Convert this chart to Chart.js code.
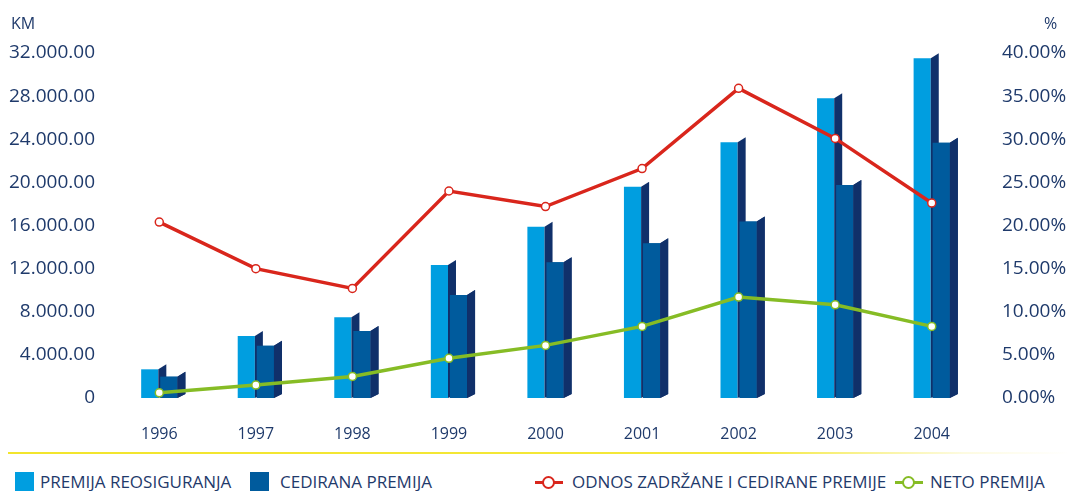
<!DOCTYPE html>
<html>
<head>
    <meta charset="utf-8">
    <title>Premija reosiguranja 1996 - 2004</title>
    <script src="https://cdn.jsdelivr.net/npm/chart.js"></script>
    <style>
        body { margin: 0; background: #fff; font-family: 'Open Sans', sans-serif; color: #1f3a6b; }
        #wrap { position: relative; width: 1070px; height: 491px; overflow: hidden; }
        #chart { position: absolute; left: 0; top: 0; }
        .unit { position: absolute; top: 12px; font-size: 16px; }
        .sep { position: absolute; left: 8px; top: 452px; width: 1062px; height: 2px;
               background: linear-gradient(to right, #f2e52c 0%, #f4e83a 70%, rgba(250,245,180,0.4) 90%, rgba(255,255,255,0) 100%); }
        .leg { position: absolute; top: 470px; font-size: 17px; line-height: 24px; white-space: nowrap; }
        .sq { position: absolute; top: 2px; width: 19px; height: 19px; }
        .mk { position: absolute; top: 11px; width: 28px; height: 3px; }
        .mk i { position: absolute; left: 7px; top: -5px; width: 13px; height: 13px; border-radius: 50%;
                background: #fff; border: 2px solid; box-sizing: border-box; }
    </style>
</head>
<body>
<div id="wrap">
    <canvas id="chart" width="1070" height="450"></canvas>
    <div class="unit" style="left:11px;">KM</div>
    <div class="unit" style="left:1044px;">%</div>
    <div class="sep"></div>
    <div class="leg" style="left:15px;"><span class="sq" style="left:0;background:#009ee0;"></span><span style="margin-left:25px;">PREMIJA REOSIGURANJA</span></div>
    <div class="leg" style="left:250px;"><span class="sq" style="left:0;background:#005b9d;"></span><span style="margin-left:30px;">CEDIRANA PREMIJA</span></div>
    <div class="leg" style="left:535px;"><span class="mk" style="left:0;background:#d9261c;"><i style="border-color:#d9261c;"></i></span><span style="margin-left:37px;">ODNOS ZADRŽANE I CEDIRANE PREMIJE</span></div>
    <div class="leg" style="left:895px;"><span class="mk" style="left:0;background:#86bc25;"><i style="border-color:#86bc25;"></i></span><span style="margin-left:35px;">NETO PREMIJA</span></div>
</div>
<script>
    // podaci
    var years = ['1996', '1997', '1998', '1999', '2000', '2001', '2002', '2003', '2004'];
    var premijaReosiguranja = [2660, 5750, 7490, 12340, 15890, 19600, 23720, 27800, 31510];
    var cediranaPremija = [1980, 4850, 6210, 9550, 12590, 14350, 16360, 19760, 23680];
    var odnosPremije = [20.4, 15.0, 12.7, 24.0, 22.2, 26.6, 35.9, 30.1, 22.6];
    var netoPremija = [0.6, 1.5, 2.5, 4.6, 6.1, 8.3, 11.7, 10.8, 8.3];
    var kmTicks = ['0', '4.000.00', '8.000.00', '12.000.00', '16.000.00', '20.000.00', '24.000.00', '28.000.00', '32.000.00'];
    var pctTicks = ['0.00%', '5.00%', '10.00%', '15.00%', '20.00%', '25.00%', '30.00%', '35.00%', '40.00%'];

    var navy = '#1f3a6b';
    var LIGHT = 2, DARK = 3; // indeksi stupaca

    function drawSides(ctx, meta) {
        ctx.save();
        ctx.fillStyle = '#10306a';
        meta.data.forEach(function(bar) {
            var r = bar.x + bar.width / 2;
            ctx.beginPath();
            ctx.moveTo(r, bar.base);
            ctx.lineTo(r, bar.y);
            ctx.lineTo(r + 8, bar.y - 5);
            ctx.lineTo(r + 8, bar.base - 4);
            ctx.closePath();
            ctx.fill();
        });
        ctx.restore();
    }

    // bocna strana stupca (3D efekt); tamni stupac mora biti ispred svijetlog
    var sideFaces = {
        id: 'sideFaces',
        afterDatasetDraw: function(chart, args) {
            if (args.index === DARK) {
                drawSides(chart.ctx, args.meta);
            }
            if (args.index === LIGHT) {
                drawSides(chart.ctx, args.meta);
                var dark = chart.getDatasetMeta(DARK);
                dark.data.forEach(function(bar) { bar.draw(chart.ctx, chart.chartArea); });
                drawSides(chart.ctx, dark);
            }
        }
    };

    var ctx = document.getElementById('chart').getContext('2d');
    var chart = new Chart(ctx, {
        type: 'bar',
        data: {
            labels: years,
            datasets: [
                {
                    type: 'line',
                    label: 'ODNOS ZADRŽANE I CEDIRANE PREMIJE',
                    data: odnosPremije,
                    yAxisID: 'y1',
                    borderColor: '#d9261c',
                    borderWidth: 3.5,
                    pointRadius: 4,
                    pointBorderWidth: 1.5,
                    pointBackgroundColor: '#fff',
                    pointBorderColor: '#d9261c',
                    tension: 0,
                    order: 0
                },
                {
                    type: 'line',
                    label: 'NETO PREMIJA',
                    data: netoPremija,
                    yAxisID: 'y1',
                    borderColor: '#86bc25',
                    borderWidth: 3.5,
                    pointRadius: 4,
                    pointBorderWidth: 1.5,
                    pointBackgroundColor: '#fff',
                    pointBorderColor: '#86bc25',
                    tension: 0,
                    order: 0
                },
                {
                    label: 'PREMIJA REOSIGURANJA',
                    data: premijaReosiguranja,
                    yAxisID: 'y',
                    backgroundColor: '#009ee0',
                    order: 1
                },
                {
                    label: 'CEDIRANA PREMIJA',
                    data: cediranaPremija,
                    yAxisID: 'y',
                    backgroundColor: '#005b9d',
                    order: 1
                }
            ]
        },
        options: {
            responsive: false,
            animation: false,
            devicePixelRatio: 1,
            layout: { padding: { top: 53, left: 0, right: 0, bottom: 0 } },
            datasets: {
                bar: { categoryPercentage: 0.395, barPercentage: 0.9 }
            },
            plugins: {
                legend: { display: false },
                tooltip: { enabled: false }
            },
            scales: {
                x: {
                    offset: true,
                    grid: { display: false, drawTicks: false },
                    border: { display: false },
                    ticks: { color: navy, padding: 27, font: { family: 'Open Sans', size: 16 } },
                    afterFit: function(axis) { axis.height = 52; }
                },
                y: {
                    position: 'left',
                    min: 0,
                    max: 32000,
                    grid: { display: false, drawTicks: false },
                    border: { display: false },
                    ticks: {
                        stepSize: 4000,
                        color: navy,
                        padding: 16,
                        font: { family: 'Open Sans', size: 19 },
                        callback: function(value, index) { return kmTicks[index]; }
                    },
                    afterFit: function(axis) { axis.width = 111; }
                },
                y1: {
                    position: 'right',
                    min: 0,
                    max: 40,
                    grid: { display: false, drawTicks: false },
                    border: { display: false },
                    ticks: {
                        stepSize: 5,
                        color: navy,
                        padding: 22,
                        font: { family: 'Open Sans', size: 19 },
                        callback: function(value, index) { return pctTicks[index]; }
                    },
                    afterFit: function(axis) { axis.width = 90; }
                }
            }
        },
        plugins: [sideFaces]
    });
</script>
</body>
</html>
